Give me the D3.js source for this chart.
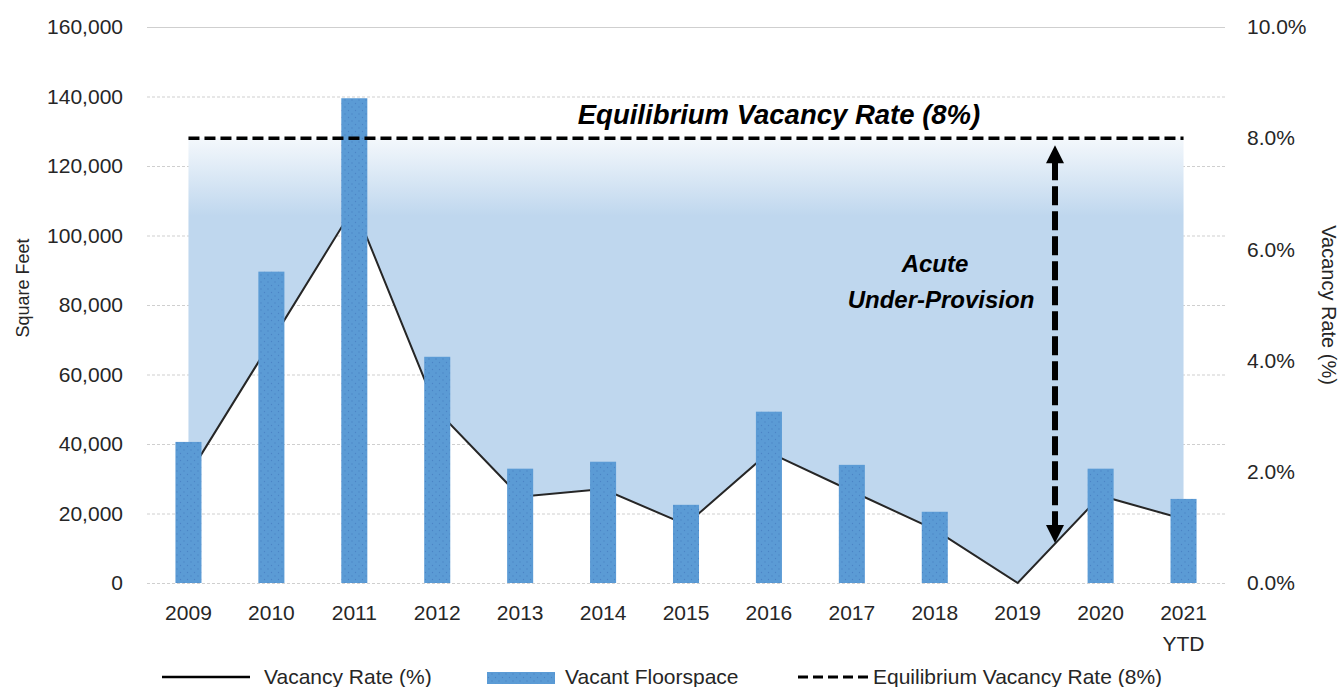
<!DOCTYPE html>
<html>
<head>
<meta charset="utf-8">
<script src="https://cdn.jsdelivr.net/npm/d3@7"></script>
<style>
  html, body { margin: 0; padding: 0; background: #fff; }
  svg { display: block; font-family: Carlito, "Liberation Sans", Arial, sans-serif; }
</style>
</head>
<body>
<div id="chart"></div>
<script>
// Chart data
const years = ["2009", "2010", "2011", "2012", "2013", "2014", "2015", "2016", "2017", "2018", "2019", "2020", "2021"];
const yearLabels = [["2009"], ["2010"], ["2011"], ["2012"], ["2013"], ["2014"], ["2015"], ["2016"], ["2017"], ["2018"], ["2019"], ["2020"], ["2021", "YTD"]];
const vacantFloorspace = [40600, 89600, 139500, 65100, 32900, 34900, 22500, 49300, 34000, 20500, 0, 32900, 24200];
const vacancyRate = [1.94, 4.35, 6.77, 3.1, 1.55, 1.69, 1.05, 2.35, 1.65, 0.96, 0, 1.57, 1.15];
const equilibriumRate = 8;
const leftTicks = [0, 20000, 40000, 60000, 80000, 100000, 120000, 140000, 160000];
const rightTicks = [0, 2, 4, 6, 8, 10];
const legendItems = ["Vacancy Rate (%)", "Vacant Floorspace", "Equilibrium Vacancy Rate (8%)"];

const W = 1341, H = 687;
const plot = {left: 147, right: 1225, top: 27, bottom: 583};
const smallFont = "21px";

const svg = d3.select("#chart").append("svg")
    .attr("width", W)
    .attr("height", H);

const defs = svg.append("defs");

// Scales
const x = d3.scaleBand()
    .domain(years)
    .range([plot.left, plot.right])
    .paddingInner(0.686)
    .paddingOuter(0.343);
const cx = d => x(d) + x.bandwidth() / 2;

const yL = d3.scaleLinear().domain([0, 160000]).range([plot.bottom, plot.top]);
const yR = d3.scaleLinear().domain([0, 10]).range([plot.bottom, plot.top]);

const rows = years.map((y, i) => ({year: y, sqft: vacantFloorspace[i], rate: vacancyRate[i]}));

// Gridlines
svg.append("g")
    .selectAll("line")
    .data(leftTicks)
    .join("line")
    .attr("x1", plot.left)
    .attr("x2", plot.right)
    .attr("y1", d => yL(d) + 0.5)
    .attr("y2", d => yL(d) + 0.5)
    .attr("stroke", "#cfcfcf")
    .attr("stroke-width", 1)
    .attr("stroke-dasharray", d => d === 160000 ? null : "3,2");

// Shaded gap between vacancy rate and equilibrium
const grad = defs.append("linearGradient")
    .attr("id", "gapFill")
    .attr("gradientUnits", "userSpaceOnUse")
    .attr("x1", 0).attr("x2", 0)
    .attr("y1", yR(equilibriumRate))
    .attr("y2", yR(6.6));
grad.append("stop").attr("offset", "0%").attr("stop-color", "#f4f8fc");
grad.append("stop").attr("offset", "100%").attr("stop-color", "#bfd7ee");

const gapArea = d3.area()
    .x(d => cx(d.year))
    .y0(yR(equilibriumRate))
    .y1(d => yR(d.rate));

svg.append("path")
    .datum(rows)
    .attr("d", gapArea)
    .attr("fill", "url(#gapFill)");

// Vacancy rate line
const rateLine = d3.line()
    .x(d => cx(d.year))
    .y(d => yR(d.rate));

svg.append("path")
    .datum(rows)
    .attr("d", rateLine)
    .attr("fill", "none")
    .attr("stroke", "#262626")
    .attr("stroke-width", 2);

// Bars with dotted texture
const pat = defs.append("pattern")
    .attr("id", "barDots")
    .attr("patternUnits", "userSpaceOnUse")
    .attr("width", 7)
    .attr("height", 7);
pat.append("rect").attr("width", 7).attr("height", 7).attr("fill", "#5b9bd5");
pat.append("circle").attr("cx", 2).attr("cy", 2).attr("r", 0.7).attr("fill", "#4b84c6");
pat.append("circle").attr("cx", 5.5).attr("cy", 5.5).attr("r", 0.7).attr("fill", "#4b84c6");

svg.append("g")
    .selectAll("rect")
    .data(rows)
    .join("rect")
    .attr("x", d => x(d.year))
    .attr("y", d => yL(d.sqft))
    .attr("width", x.bandwidth())
    .attr("height", d => yL(0) - yL(d.sqft))
    .attr("fill", "url(#barDots)");

// Equilibrium dashed line
svg.append("line")
    .attr("x1", cx(years[0]))
    .attr("x2", cx(years[years.length - 1]))
    .attr("y1", yR(equilibriumRate))
    .attr("y2", yR(equilibriumRate))
    .attr("stroke", "#000")
    .attr("stroke-width", 3.5)
    .attr("stroke-dasharray", "11,5");

// Double-headed arrow annotation
const ax = cx("2019") + 0.45 * x.step();
const aTop = yR(equilibriumRate) + 7;
const aBot = yR(0.72);
const headH = 18, headW = 9;
svg.append("line")
    .attr("x1", ax).attr("x2", ax)
    .attr("y1", aTop + headH - 2)
    .attr("y2", aBot - headH + 2)
    .attr("stroke", "#000")
    .attr("stroke-width", 6)
    .attr("stroke-dasharray", "19,6");
svg.append("path")
    .attr("d", `M${ax},${aTop} L${ax + headW},${aTop + headH} L${ax - headW},${aTop + headH} Z`)
    .attr("fill", "#000");
svg.append("path")
    .attr("d", `M${ax},${aBot} L${ax + headW},${aBot - headH} L${ax - headW},${aBot - headH} Z`)
    .attr("fill", "#000");

// Annotation texts
svg.append("text")
    .attr("x", 779)
    .attr("y", yR(equilibriumRate) - 14)
    .attr("text-anchor", "middle")
    .style("font-family", "'Liberation Sans', Arial, sans-serif")
    .style("font-weight", "bold")
    .style("font-style", "italic")
    .style("font-size", "27.5px")
    .text("Equilibrium Vacancy Rate (8%)");

const acute = svg.append("text")
    .attr("text-anchor", "middle")
    .style("font-family", "'Liberation Sans', Arial, sans-serif")
    .style("font-weight", "bold")
    .style("font-style", "italic")
    .style("font-size", "24px");
acute.append("tspan").attr("x", 935).attr("y", 272).text("Acute");
acute.append("tspan").attr("x", 941).attr("y", 308).text("Under-Provision");

// Left axis
const leftAxis = svg.append("g")
    .attr("transform", `translate(${plot.left},0)`)
    .call(d3.axisLeft(yL).tickValues(leftTicks).tickSize(0).tickPadding(24).tickFormat(d3.format(",")));
leftAxis.select(".domain").remove();
leftAxis.selectAll("text")
    .style("font-family", "'Liberation Sans', Arial, sans-serif")
    .style("font-size", smallFont)
    .attr("fill", "#262626");

// Right axis
const rightAxis = svg.append("g")
    .attr("transform", `translate(${plot.right},0)`)
    .call(d3.axisRight(yR).tickValues(rightTicks).tickSize(0).tickPadding(22).tickFormat(d => d.toFixed(1) + "%"));
rightAxis.select(".domain").remove();
rightAxis.selectAll("text")
    .style("font-family", "'Liberation Sans', Arial, sans-serif")
    .style("font-size", smallFont)
    .attr("fill", "#262626");

// Bottom axis labels
const xAxis = svg.append("g")
    .attr("transform", `translate(0,${plot.bottom})`)
    .call(d3.axisBottom(x).tickSize(0).tickFormat(""));
xAxis.select(".domain").remove();
xAxis.selectAll(".tick").each(function(d, i) {
    const t = d3.select(this).append("text")
        .attr("text-anchor", "middle")
        .attr("fill", "#262626")
        .style("font-family", "'Liberation Sans', Arial, sans-serif")
        .style("font-size", smallFont);
    yearLabels[i].forEach((line, j) => {
        t.append("tspan").attr("x", 0).attr("y", 37 + j * 31).text(line);
    });
});

// Axis titles
svg.append("text")
    .attr("transform", `translate(29,${(plot.top + plot.bottom) / 2 - 17}) rotate(-90)`)
    .attr("text-anchor", "middle")
    .attr("fill", "#262626")
    .style("font-family", "'Liberation Sans', Arial, sans-serif")
    .style("font-size", "18px")
    .text("Square Feet");

svg.append("text")
    .attr("transform", `translate(1322,${(plot.top + plot.bottom) / 2}) rotate(90)`)
    .attr("text-anchor", "middle")
    .attr("fill", "#262626")
    .style("font-family", "'Liberation Sans', Arial, sans-serif")
    .style("font-size", "20px")
    .text("Vacancy Rate (%)");

// Legend
const legY = 677;
const legend = svg.append("g")
    .style("font-family", "'Liberation Sans', Arial, sans-serif")
    .style("font-size", smallFont)
    .attr("fill", "#262626");

legend.append("line")
    .attr("x1", 162).attr("x2", 250)
    .attr("y1", legY).attr("y2", legY)
    .attr("stroke", "#000").attr("stroke-width", 2.5);
legend.append("text").attr("x", 264).attr("y", legY + 7).text(legendItems[0]);

legend.append("rect")
    .attr("x", 487).attr("y", legY - 5)
    .attr("width", 68).attr("height", 12)
    .attr("fill", "url(#barDots)");
legend.append("text").attr("x", 565).attr("y", legY + 7).text(legendItems[1]);

legend.append("line")
    .attr("x1", 798).attr("x2", 870)
    .attr("y1", legY).attr("y2", legY)
    .attr("stroke", "#000").attr("stroke-width", 3)
    .attr("stroke-dasharray", "10,5");
legend.append("text").attr("x", 873).attr("y", legY + 7).text(legendItems[2]);
</script>
</body>
</html>
